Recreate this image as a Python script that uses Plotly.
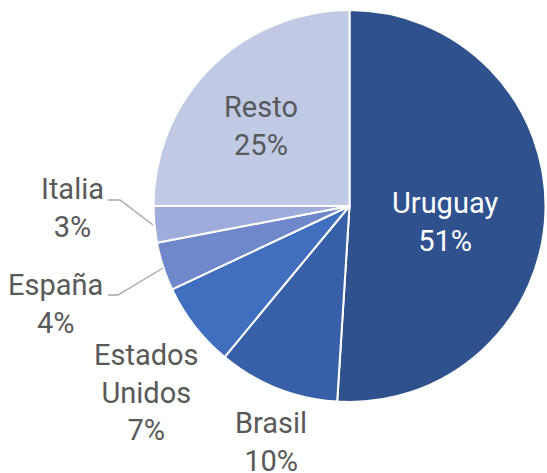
import plotly.graph_objects as go

labels = ["Uruguay", "Brasil", "Estados Unidos", "España", "Italia", "Resto"]
values = [51, 10, 7, 4, 3, 25]
colors = ["#2F528F", "#3760A8", "#3F6FBE", "#6E88CB", "#9DACDA", "#C0CAE5"]

W, H = 547, 473
cx, cy, r = 349.5, 206, 196

def px(x):
    return x / W

def py(y):
    return 1 - y / H

fig = go.Figure(go.Pie(
    labels=labels, values=values, sort=False, direction="clockwise", rotation=0,
    marker=dict(colors=colors, line=dict(color="white", width=2)),
    textinfo="none",
    domain=dict(x=[px(cx - r), px(cx + r)], y=[py(cy + r), py(cy - r)]),
    showlegend=False, hoverinfo="label+percent",
))

total = sum(values)
label_pos = {
    "Uruguay": (445, 222, "white"),
    "Resto": (261, 126, "#595959"),
    "Brasil": (271, 442, "#595959"),
    "Estados Unidos": (146, 392, "#595959"),
    "España": (55, 304, "#595959"),
    "Italia": (72, 208, "#595959"),
}
for lab, (x, y, col) in label_pos.items():
    v = values[labels.index(lab)]
    name = lab.replace(" ", "<br>")
    fig.add_annotation(x=px(x), y=py(y), xref="paper", yref="paper",
                       text=f"{name}<br>{round(100 * v / total)}%", showarrow=False,
                       font=dict(family="Roboto", size=29, color=col),
                       xanchor="center", yanchor="middle", align="center")

leaders = [
    [(108, 200), (120, 200), (153, 225)],
    [(108, 295), (118, 295), (163, 268)],
]
for pts in leaders:
    path = "M " + " L ".join(f"{px(x)},{py(y)}" for x, y in pts)
    fig.add_shape(type="path", xref="paper", yref="paper", path=path,
                  line=dict(color="#A6A6A6", width=1.3))

fig.update_layout(width=W, height=H, margin=dict(l=0, r=0, t=0, b=0),
                  paper_bgcolor="white", plot_bgcolor="white",
                  font=dict(family="Roboto"))
fig.write_html("out.html", config={"displayModeBar": False},
               post_script="document.body.style.margin='0';")
